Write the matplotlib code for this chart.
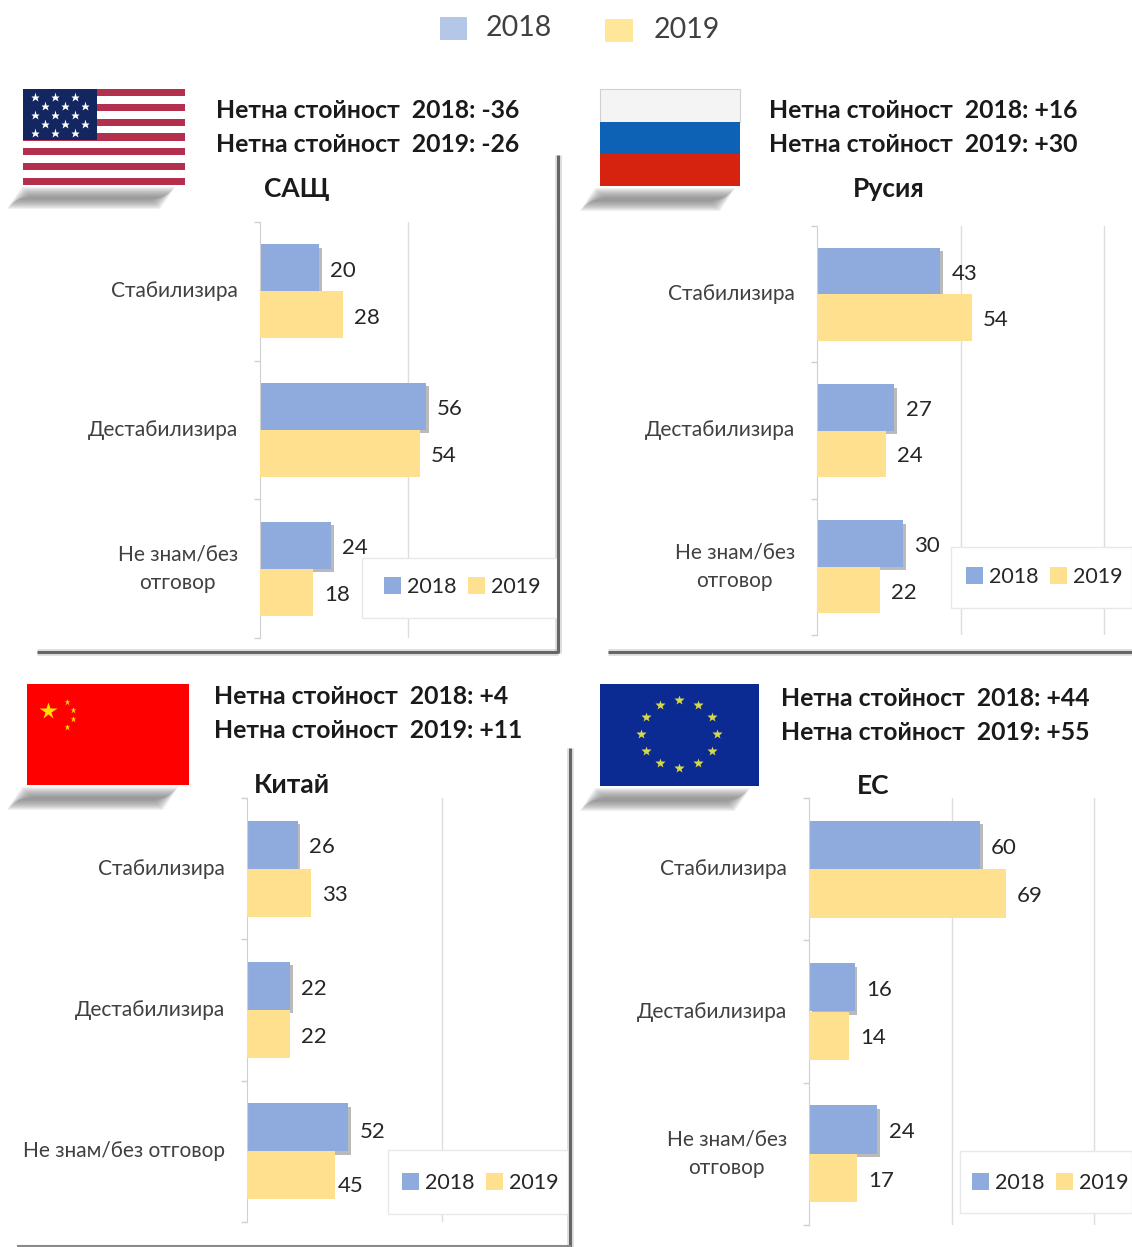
import numpy as np
import matplotlib
matplotlib.use("Agg")
import matplotlib.pyplot as plt
import matplotlib.patheffects as pe
from matplotlib.patches import Rectangle, Polygon

plt.rcParams['font.family'] = ['Lato', 'Open Sans', 'DejaVu Sans']

W, H = 1132, 1247

# data
years = ['2018', '2019']
cats_two_line = ['Стабилизира', 'Дестабилизира', 'Не знам/без\nотговор']
cats_one_line = ['Стабилизира', 'Дестабилизира', 'Не знам/без отговор']

usa_2018 = [20, 56, 24]
usa_2019 = [28, 54, 18]
rus_2018 = [43, 27, 30]
rus_2019 = [54, 24, 22]
chn_2018 = [26, 22, 52]
chn_2019 = [33, 22, 45]
eu_2018 = [60, 16, 24]
eu_2019 = [69, 14, 17]

usa_net = ['Нетна стойност  2018: -36', 'Нетна стойност  2019: -26']
rus_net = ['Нетна стойност  2018: +16', 'Нетна стойност  2019: +30']
chn_net = ['Нетна стойност  2018: +4', 'Нетна стойност  2019: +11']
eu_net = ['Нетна стойност  2018: +44', 'Нетна стойност  2019: +55']

BLUE = '#8FAADC'
YELLOW = '#FFE08F'
GRID = '#DDDDDD'
TXT = '#262626'

fig = plt.figure(figsize=(W / 100, H / 100), dpi=100, facecolor='white')

# pixel overlay for flags, shadows and the outer legend
bg = fig.add_axes([0, 0, 1, 1])
bg.set_xlim(0, W)
bg.set_ylim(H, 0)
bg.axis('off')


def soft_shadow(x0, x1, y0, y1, slant=15):
    # layered polygons, the picture has a blurred shadow below each flag
    for i in range(12):
        d = i * 0.9
        bg.add_patch(Polygon([(x0 + slant + d, y0 + d), (x1 - d, y0 + d),
                              (x1 - slant - d, y1 - d), (x0 + d, y1 - d)],
                             closed=True, fc='#707070', ec='none', alpha=0.09))


def edge_line(xs, ys):
    bg.plot(xs, ys, color='#808080', lw=5, alpha=0.25, solid_capstyle='butt')
    bg.plot(xs, ys, color='#666666', lw=2.2, solid_capstyle='butt')


def usa_flag():
    x0, x1, y0, y1 = 23, 185, 89, 185
    step = (y1 - y0) / 13
    bg.add_patch(Rectangle((x0, y0), x1 - x0, y1 - y0, fc='white', ec='none'))
    for i in range(0, 13, 2):
        bg.add_patch(Rectangle((x0, y0 + i * step), x1 - x0, step, fc='#B22F4E', ec='none'))
    bg.add_patch(Rectangle((x0, y0), 74, 51, fc='#14265F', ec='none'))
    for r in range(5):
        off = 10 if r % 2 else 0
        for c in range(3):
            bg.plot(35 + off + c * 20, 97 + r * 9, marker='*', ms=6.5, color='white', mec='none')


def russia_flag():
    x0, x1 = 600, 740
    bg.add_patch(Rectangle((x0, 89), x1 - x0, 33, fc='#F4F4F4', ec='#D0D0D0', lw=0.8))
    bg.add_patch(Rectangle((x0, 122), x1 - x0, 32, fc='#0D62B5', ec='none'))
    bg.add_patch(Rectangle((x0, 154), x1 - x0, 32, fc='#D5230F', ec='none'))


def china_flag():
    bg.add_patch(Rectangle((27, 684), 162, 101, fc='#FE0000', ec='none'))
    bg.plot(48, 711, marker='*', ms=13, color='#FFDE00', mec='none')
    for sx, sy in [(67, 702), (73, 710), (73, 719), (67, 727)]:
        bg.plot(sx, sy, marker='*', ms=5, color='#FFDE00', mec='none')


def eu_flag():
    bg.add_patch(Rectangle((600, 684), 159, 102, fc='#0B2A92', ec='none'))
    for a in np.arange(0, 360, 30):
        bg.plot(679 + 38 * np.sin(np.radians(a)), 734 - 34 * np.cos(np.radians(a)),
                marker='*', ms=7, color='#D6D84A', mec='none')


def panel(box, scale, ticks, cats, v18, v19, title, title_xy, net, net_xy, leg_box, leg_xy):
    left, top, right, bottom = box
    ax = fig.add_axes([left / W, 1 - bottom / H, (right - left) / W, (bottom - top) / H])
    ax.patch.set_alpha(0)
    y = np.arange(3)
    b1 = ax.barh(y - 0.17, v18, height=0.34, color=BLUE, label=years[0], zorder=2)
    b2 = ax.barh(y + 0.17, v19, height=0.34, color=YELLOW, label=years[1], zorder=3)
    lab1 = ax.bar_label(b1, padding=8, fontsize=16, color=TXT)
    lab2 = ax.bar_label(b2, padding=8, fontsize=16, color=TXT)
    for t in list(lab1) + list(lab2):
        t.xyann = (8, -2)

    ax.set_xlim(0, (right - left) / scale)
    ax.set_ylim(2.5, -0.5)
    ax.set_xticks(ticks)
    ax.tick_params(axis='x', length=0, labelbottom=False)
    ax.grid(axis='x', color=GRID, lw=1, zorder=0)
    ax.set_axisbelow(True)
    ax.set_yticks(y, cats, multialignment='center', fontsize=15, color='#404040',
                  linespacing=1.5, va='center')
    ax.tick_params(axis='y', which='major', length=0, pad=16)
    ax.set_yticks([-0.5, 0.5, 1.5, 2.5], minor=True)
    ax.tick_params(axis='y', which='minor', length=4, color='#D0D0D0', width=1)
    for s in ['top', 'right', 'bottom']:
        ax.spines[s].set_visible(False)
    ax.spines['left'].set_color('#D0D0D0')

    # legend box sits inside the plot
    x0, y0, x1, y1 = leg_box
    ax.add_patch(Rectangle((x0, y0), x1 - x0, y1 - y0, transform=bg.transData, fc='white',
                           ec='#E8E8E8', lw=1, zorder=5, clip_on=True))
    leg = ax.legend(loc='center left', bbox_to_anchor=leg_xy, bbox_transform=bg.transData,
                    ncol=2, frameon=False, fontsize=15.5, handlelength=0.8, handleheight=0.8,
                    handletextpad=0.25, columnspacing=0.55, borderpad=0, borderaxespad=0)
    leg.set_zorder(6)
    for t in leg.get_texts():
        t.set_color(TXT)

    # shadow goes on after the legend so the legend keys stay flat
    for b in b1:
        b.set_path_effects([pe.SimplePatchShadow(offset=(2, -2.5), shadow_rgbFace='#777777', alpha=0.5),
                            pe.Normal()])

    bg.text(title_xy[0], title_xy[1], title, ha='center', va='center', fontsize=19,
            fontweight='bold', color='#1A1A1A')
    bg.text(net_xy[0], net_xy[1], net[0], ha='left', va='center', fontsize=17.8,
            fontweight='bold', color='#1A1A1A')
    bg.text(net_xy[0], net_xy[1] + 34, net[1], ha='left', va='center', fontsize=17.8,
            fontweight='bold', color='#1A1A1A')
    return ax, lab1, lab2


# flag shadows and panel edges
soft_shadow(7, 175, 187, 209)
soft_shadow(580, 735, 188, 211)
soft_shadow(7, 178, 787, 810)
soft_shadow(580, 750, 788, 811)

edge_line([558, 558], [155, 653])
edge_line([37, 558], [652, 652])
edge_line([608, 1132], [652, 652])
edge_line([570, 570], [748, 1247])
bg.plot([18, 570], [1246, 1246], color='#8A8A8A', lw=1.5)

usa_flag()
russia_flag()
china_flag()
eu_flag()

# outer legend
bg.add_patch(Rectangle((440, 17), 27, 23, fc='#B4C7E7', ec='none'))
bg.add_patch(Rectangle((605, 19), 28, 23, fc='#FFE699', ec='none'))
bg.text(486, 28, years[0], ha='left', va='center', fontsize=20.5, color='#404040')
bg.text(654, 30, years[1], ha='left', va='center', fontsize=20.5, color='#404040')

panel((260, 222, 557, 638), 2.96, [50, 100], cats_two_line, usa_2018, usa_2019,
      'САЩ', (297, 189), usa_net, (216, 110), (362, 558, 557, 618), (384, 587))
panel((817, 226, 1132, 635), 2.87, [50, 100], cats_two_line, rus_2018, rus_2019,
      'Русия', (889, 189), rus_net, (769, 110), (951, 547, 1132, 608), (966, 577))
_, chn_lab18, chn_lab19 = panel((247, 798, 568, 1222), 1.95, [100], cats_one_line, chn_2018, chn_2019,
      'Китай', (292, 785), chn_net, (214, 696), (388, 1150, 568, 1214), (402, 1183))
# these two labels sit off their usual spot in the picture
chn_lab18[2].xyann = (8, -3.5)
chn_lab19[2].xyann = (2.5, -8)
panel((809, 798, 1132, 1225), 2.85, [50, 100], cats_two_line, eu_2018, eu_2019,
      'ЕС', (873, 786), eu_net, (781, 698), (960, 1151, 1132, 1213), (972, 1183))

fig.savefig('out.png', dpi=100)
